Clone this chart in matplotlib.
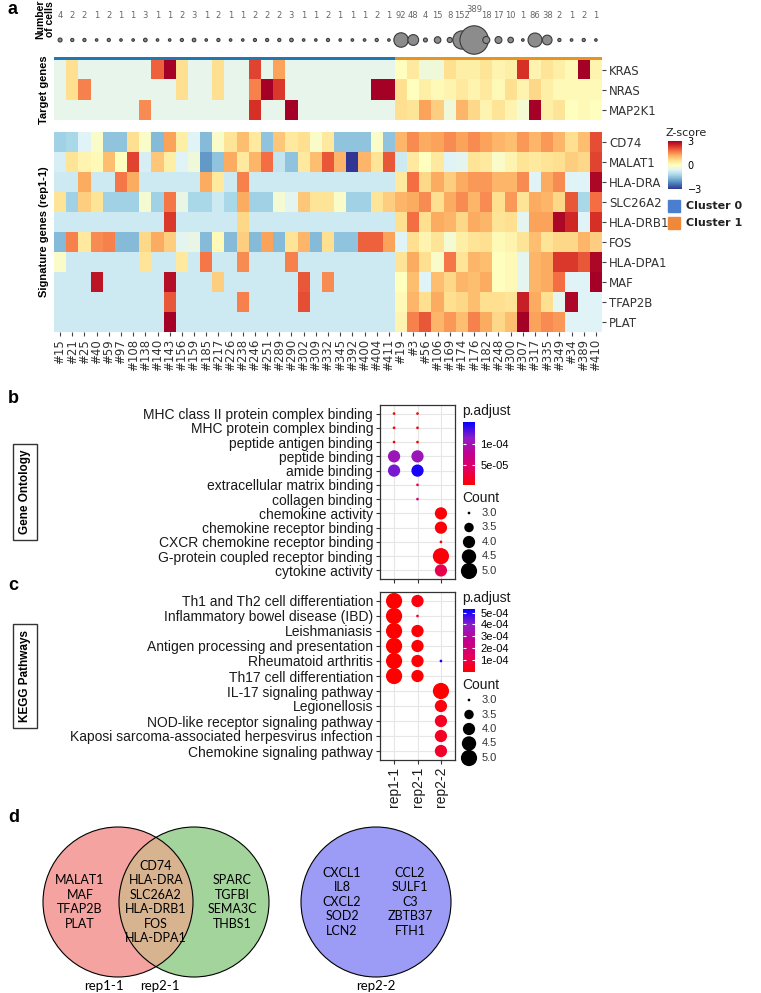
import numpy as np
import matplotlib
matplotlib.use("Agg")
import matplotlib.pyplot as plt
from matplotlib.colors import LinearSegmentedColormap, Normalize
from matplotlib.cm import ScalarMappable
from matplotlib.patches import Circle, Rectangle


# ============================================================
# 1. DATA
# ============================================================

CELL_IDS = ["#15", "#21", "#25", "#40", "#59", "#97", "#108", "#138", "#140", "#143",
            "#156", "#159", "#185", "#217", "#226", "#238", "#246", "#251", "#289", "#290",
            "#302", "#309", "#332", "#345", "#392", "#400", "#404", "#411",
            "#19", "#3", "#56", "#106", "#169", "#174", "#176", "#182", "#248", "#300",
            "#307", "#317", "#335", "#349", "#34", "#389", "#410"]
N_CELLS = [4, 2, 2, 1, 2, 1, 1, 3, 1, 1, 2, 3, 1, 2, 1, 1, 2, 2, 2, 3, 1, 1, 2, 1, 1, 1, 2, 1,
           92, 48, 4, 15, 8, 152, 389, 18, 17, 10, 1, 86, 38, 2, 1, 2, 1]
N_CLUSTER0 = 28

TARGET_GENES = ["KRAS", "NRAS", "MAP2K1"]
KRAS = [-0.45, 0.6, -0.45, -0.45, -0.45, -0.45, -0.45, -0.45, 1.9, 3.0,
        0.6, -0.45, -0.45, 0.6, -0.45, -0.45, 2.2, -0.45, 1.3, -0.45,
        -0.45, -0.45, -0.45, -0.45, -0.45, -0.45, -0.45, -0.45,
        0.0, 0.4, -0.3, -0.3, 0.6, 0.3, 0.3, 0.5, 0.2, 0.3, 2.4, 0.2, 0.5, 0.3, 0.1, 3.0, 0.2]
NRAS = [-0.45, 0.6, 1.6, -0.45, -0.45, -0.45, -0.45, -0.45, -0.45, -0.45,
        0.6, -0.45, -0.45, 0.6, -0.45, -0.45, 1.6, 3.0, 2.3, -0.45,
        -0.45, -0.45, -0.45, -0.45, -0.45, -0.45, 3.0, 3.0,
        0.6, 0.0, 0.3, 0.1, 0.2, 0.4, 0.2, 0.4, 0.1, 0.6, 0.2, 0.7, 0.3, 0.1, 0.1, 0.1, 0.1]
MAP2K1 = [-0.45, -0.45, -0.45, -0.45, -0.45, -0.45, -0.45, 1.5, -0.45, -0.45,
          -0.45, -0.45, -0.45, -0.45, -0.45, -0.45, 2.4, -0.45, -0.45, 3.0,
          -0.45, -0.45, -0.45, -0.45, -0.45, -0.45, -0.45, -0.45,
          0.6, 0.5, 1.3, 0.8, -0.3, 1.1, 0.7, 0.2, 0.5, 0.2, -0.2, 3.0, 0.3, 0.5, 0.0, 0.1, 0.0]

SIGNATURE_GENES = ["CD74", "MALAT1", "HLA-DRA", "SLC26A2", "HLA-DRB1",
                   "FOS", "HLA-DPA1", "MAF", "TFAP2B", "PLAT"]
CD74 = [-1.3, -1.2, -0.6, -0.1, -1.5, -1.5, 0.6, -0.1, -1.6, 1.3,
        0.3, -0.6, -1.6, -0.1, 0.5, 1.0, 0.4, -1.5, 0.9, 0.4,
        0.6, -0.1, 0.4, -1.5, -1.5, -1.5, -0.1, -1.5,
        1.1, 1.5, 1.2, 1.3, 1.5, 1.3, 1.5, 1.3, 1.1, 1.0, 1.4, 1.1, 1.4, 1.1, 0.6, 1.0, 2.1]
MALAT1 = [-0.7, 0.5, 0.2, 0.1, 1.0, 0.0, 2.2, -0.7, 0.9, 0.3,
          -0.6, -0.3, -2.0, -1.5, 1.2, 0.4, 1.1, 1.8, -0.9, -1.5,
          0.4, 1.0, 2.0, 1.1, -3.0, 1.1, 0.5, 2.0,
          -0.8, 0.4, 0.0, 0.4, -0.6, -0.5, 0.5, 0.4, -0.1, 0.2, 0.5, 0.4, 0.5, 0.6, 0.8, 0.7, 2.2]
HLA_DRA = [-0.8, -0.8, 1.2, -0.8, -0.8, 1.7, 1.2, -0.8, -0.8, -0.8,
           -0.8, -0.8, 1.2, 0.4, -0.8, 1.6, -0.8, -0.8, -0.8, -0.8,
           -0.8, -0.8, -0.8, -0.8, -0.8, -0.8, -0.8, -0.8,
           0.4, 1.8, 0.7, 1.2, 0.8, 1.2, 1.4, 1.4, 1.1, 1.1, 1.5, -0.6, 1.2, 1.5, -0.6, -0.6, 2.9]
SLC26A2 = [0.5, -1.3, 0.8, 0.5, -1.3, -1.3, -1.3, -0.2, -1.3, 1.7,
           -0.4, -1.2, -1.2, -0.8, -1.2, 1.2, -1.3, -1.3, -0.2, -0.5,
           0.9, 0.5, 0.5, -0.1, -1.3, -1.3, 0.5, 0.8,
           1.1, 1.2, 1.5, 0.6, 1.2, 1.5, 1.1, 1.5, 0.6, 1.4, 0.5, 1.2, 1.1, 0.7, 2.0, -1.2, 1.8]
HLA_DRB1 = [-0.8, -0.8, -0.8, -0.8, -0.8, -0.8, -0.8, -0.8, -0.8, 2.3,
            -0.8, -0.8, -0.8, -0.8, -0.8, 0.7, -0.8, -0.8, -0.8, -0.8,
            -0.8, -0.8, -0.8, -0.8, -0.8, -0.8, -0.8, -0.8,
            0.6, 1.8, 0.6, 1.2, 1.1, 0.7, 1.2, 1.1, 0.5, 0.6, -0.5, 1.3, 1.3, 2.9, 2.5, -0.6, 2.4]
FOS = [-1.6, 1.6, 0.4, 1.5, 1.6, -1.6, -1.6, 0.7, 1.2, 0.8,
       -0.5, -0.4, -1.6, 0.1, -1.6, 0.8, -1.6, 1.3, -1.6, 0.5,
       1.1, -1.6, 0.6, -1.5, -1.5, 1.9, 1.9, 1.3,
       -0.6, 0.6, 0.2, 0.5, -0.2, 0.3, 0.5, 0.6, 0.1, 0.2, 0.5, 1.0, 0.5, 0.7, 0.7, 1.1, 0.8]
HLA_DPA1 = [-0.1, -0.8, -0.8, -0.8, -0.8, -0.8, -0.8, 0.5, -0.8, -0.8,
            0.4, -0.8, 1.7, -0.8, -0.8, 1.5, -0.8, -0.8, -0.8, 1.6,
            -0.8, -0.8, -0.8, -0.8, -0.8, -0.8, -0.8, -0.8,
            0.5, 1.2, 0.6, -0.1, 1.7, 0.5, 1.1, 1.0, 0.0, 0.1, -0.5, 1.1, 1.2, 2.3, 2.3, 2.0, 2.9]
MAF = [-0.8, -0.8, -0.8, 2.7, -0.8, -0.8, -0.8, -0.8, -0.8, 2.8,
       -0.8, -0.8, -0.8, 0.8, -0.8, -0.8, -0.8, -0.8, -0.8, -0.8,
       2.0, -0.8, 1.5, -0.8, -0.8, -0.8, -0.8, -0.8,
       0.0, 1.0, -0.6, 1.0, 0.7, 1.1, 1.0, 1.2, 0.0, 0.1, -0.5, 1.1, 1.2, 1.8, -0.6, -0.6, 3.0]
TFAP2B = [-0.8, -0.8, -0.8, -0.8, -0.8, -0.8, -0.8, -0.8, -0.8, 2.0,
          -0.8, -0.8, -0.8, -0.8, -0.8, 1.6, -0.8, -0.8, -0.8, -0.8,
          2.1, -0.8, -0.8, -0.8, -0.8, -0.8, -0.8, -0.8,
          0.1, 1.1, 0.6, 1.2, 0.6, 0.7, 1.0, 0.6, 0.6, 0.5, 2.6, 1.2, 0.6, -0.5, 2.9, -0.6, -0.6]
PLAT = [-0.8, -0.8, -0.8, -0.8, -0.8, -0.8, -0.8, -0.8, -0.8, 3.0,
        -0.8, -0.8, -0.8, -0.8, -0.8, -0.8, -0.8, -0.8, -0.8, -0.8,
        -0.8, -0.8, -0.8, -0.8, -0.8, -0.8, -0.8, -0.8,
        0.2, 1.6, 2.0, 1.1, 1.4, 1.0, 1.6, 1.2, 0.7, 1.0, 3.0, 1.3, 1.5, 1.4, -0.6, -0.6, -0.6]

SAMPLES = ["rep1-1", "rep2-1", "rep2-2"]

GO_TERMS = ["MHC class II protein complex binding", "MHC protein complex binding",
            "peptide antigen binding", "peptide binding", "amide binding",
            "extracellular matrix binding", "collagen binding", "chemokine activity",
            "chemokine receptor binding", "CXCR chemokine receptor binding",
            "G-protein coupled receptor binding", "cytokine activity"]
GO_TERM_IDX = [0, 0, 1, 1, 2, 2, 3, 3, 4, 4, 5, 6, 7, 8, 9, 10, 11]
GO_SAMPLE_IDX = [0, 1, 0, 1, 0, 1, 0, 1, 0, 1, 1, 1, 2, 2, 2, 2, 2]
GO_COUNT = [3, 3, 3, 3, 3, 3, 4, 4, 4, 4, 3, 3, 4, 4, 3, 5, 4]
GO_PADJ = [5e-6, 5e-6, 5e-6, 5e-6, 6e-6, 6e-6, 1.05e-4, 1.05e-4, 1.2e-4,
           1.45e-4, 4e-5, 6.5e-5, 5e-6, 5e-6, 9e-6, 6e-6, 3.2e-5]

KEGG_TERMS = ["Th1 and Th2 cell differentiation", "Inflammatory bowel disease (IBD)",
              "Leishmaniasis", "Antigen processing and presentation", "Rheumatoid arthritis",
              "Th17 cell differentiation", "IL-17 signaling pathway", "Legionellosis",
              "NOD-like receptor signaling pathway",
              "Kaposi sarcoma-associated herpesvirus infection", "Chemokine signaling pathway"]
KEGG_TERM_IDX = [0, 0, 1, 1, 2, 2, 3, 3, 4, 4, 4, 5, 5, 6, 7, 8, 9, 10]
KEGG_SAMPLE_IDX = [0, 1, 0, 1, 0, 1, 0, 1, 0, 1, 2, 0, 1, 2, 2, 2, 2, 2]
KEGG_COUNT = [5, 4, 5, 3, 5, 4, 5, 4, 5, 4, 3, 5, 4, 5, 4, 4, 4, 4]
KEGG_PADJ = [1e-6, 2e-5, 1e-6, 3e-5, 1e-6, 1e-5, 1e-6, 1e-5, 1e-6, 1e-5, 5.1e-4,
             1e-6, 1e-5, 1e-6, 2e-5, 5e-5, 5e-5, 6e-5]

COUNT_BREAKS = [3.0, 3.5, 4.0, 4.5, 5.0]

VENN_REP11_ONLY = ["MALAT1", "MAF", "TFAP2B", "PLAT"]
VENN_SHARED = ["CD74", "HLA-DRA", "SLC26A2", "HLA-DRB1", "FOS", "HLA-DPA1"]
VENN_REP21_ONLY = ["SPARC", "TGFBI", "SEMA3C", "THBS1"]
VENN_REP22_COL1 = ["CXCL1", "IL8", "CXCL2", "SOD2", "LCN2"]
VENN_REP22_COL2 = ["CCL2", "SULF1", "C3", "ZBTB37", "FTH1"]


# ============================================================
# 2. Helpers
# ============================================================

W, H = 761, 993
GG_FONT = "Liberation Sans"
CLUSTER_COLORS = ["#1f77b4", "#e8951f"]
TEXT_DARK = "#1a1a1a"

fig = plt.figure(figsize=(W / 100, H / 100), dpi=100)


def add_ax(x0, y0, x1, y1):
    # pixel box (top-left origin) -> figure axes
    return fig.add_axes([x0 / W, 1 - y1 / H, (x1 - x0) / W, (y1 - y0) / H])


def put_text(x, y, s, **kw):
    fig.text(x / W, 1 - y / H, s, **kw)


def dot_area(count):
    # ggplot-like area scale between count 3 and 5
    count = np.asarray(count, dtype=float)
    d_px = 2.7 * (1 + 5 * np.sqrt((count - 3) / 2))
    return (d_px * 0.72) ** 2


padj_cmap = LinearSegmentedColormap.from_list(
    "padj", ["#ff0000", "#e3005f", "#c2008f", "#8e1ec8", "#0000ff"])
z_cmap = plt.get_cmap("RdYlBu_r")


def style_heatmap(ax):
    for sp in ax.spines.values():
        sp.set_visible(False)
    ax.yaxis.tick_right()
    ax.tick_params(axis="y", length=3, color="#444444", labelsize=8.5,
                   labelcolor="#333333", pad=2)


def dot_panel(ax, terms, term_idx, sample_idx, counts, padj, norm, show_x):
    ax.scatter(sample_idx, term_idx, s=dot_area(counts), c=padj, cmap=padj_cmap,
               norm=norm, zorder=3, linewidths=0)
    ax.set_xlim(-0.6, 2.6)
    ax.set_ylim(len(terms) - 0.4, -0.6)
    ax.set_yticks(range(len(terms)))
    ax.set_yticklabels(terms, fontsize=10, family=GG_FONT, color=TEXT_DARK)
    ax.set_xticks(range(3))
    if show_x:
        ax.set_xticklabels(SAMPLES, rotation=90, fontsize=10, family=GG_FONT,
                           color=TEXT_DARK)
    else:
        ax.set_xticklabels([])
    ax.tick_params(length=3, color="#333333", pad=2)
    ax.grid(color="#e6e6e6", linewidth=0.8)
    ax.set_axisbelow(True)
    for sp in ax.spines.values():
        sp.set_color("#333333")
        sp.set_linewidth(0.9)


def dot_legend(x, y_top, norm, ticks, ticklabels):
    put_text(x - 1, y_top + 6, "p.adjust", fontsize=10, family=GG_FONT, va="center",
             color=TEXT_DARK)
    cax = add_ax(x, y_top + 17, x + 12, y_top + 80)
    cb = fig.colorbar(ScalarMappable(norm=norm, cmap=padj_cmap), cax=cax)
    cb.outline.set_visible(False)
    cb.set_ticks(ticks)
    cb.set_ticklabels(ticklabels)
    cax.yaxis.set_ticks_position("both")
    cax.tick_params(length=2.5, width=0.8, direction="in", color="white",
                    labelsize=8, pad=4, labelleft=False, labelright=True)
    for lab in cax.get_yticklabels():
        lab.set_family(GG_FONT)
    put_text(x - 1, y_top + 93, "Count", fontsize=10, family=GG_FONT, va="center",
             color=TEXT_DARK)
    lax = add_ax(x - 10, y_top + 100, x + 50, y_top + 178)
    lax.set_xlim(x - 10, x + 50)
    lax.set_ylim(y_top + 178, y_top + 100)
    lax.axis("off")
    ys = y_top + 108 + np.arange(len(COUNT_BREAKS)) * 14.5
    lax.scatter(np.full(len(ys), x + 6), ys, s=dot_area(COUNT_BREAKS), c="black",
                linewidths=0, clip_on=False)
    for yy, lab in zip(ys, COUNT_BREAKS):
        lax.text(x + 19, yy, f"{lab:.1f}", fontsize=8, family=GG_FONT, va="center",
                 color="#333333")


# ============================================================
# 3. Panel a: heatmaps
# ============================================================

n_cols = len(CELL_IDS)
xs = np.arange(n_cols)

ax_n = add_ax(54, 0, 602, 60)
ax_n.set_xlim(-0.5, n_cols - 0.5)
ax_n.set_ylim(60, 0)
ax_n.axis("off")
bubble_d = 1.2 + 1.38 * np.sqrt(N_CELLS)
ax_n.scatter(xs, np.full(n_cols, 40), s=(bubble_d * 0.72) ** 2, c="#8c8c8c",
             edgecolors="#3a3a3a", linewidths=0.8, zorder=3, clip_on=False)
for i, n in enumerate(N_CELLS):
    ax_n.text(i, 9 if n > 300 else 15, str(n), ha="center", va="center",
              fontsize=6, color="#666666")
ax_n.add_patch(Rectangle((-0.5, 56.5), N_CLUSTER0, 3, color=CLUSTER_COLORS[0],
                         lw=0, clip_on=False))
ax_n.add_patch(Rectangle((N_CLUSTER0 - 0.5, 56.5), n_cols - N_CLUSTER0, 3,
                         color=CLUSTER_COLORS[1], lw=0, clip_on=False))

ax_t = add_ax(54, 60, 602, 120)
ax_t.imshow(np.array([KRAS, NRAS, MAP2K1]), cmap=z_cmap, vmin=-3, vmax=3,
            aspect="auto", interpolation="nearest")
style_heatmap(ax_t)
ax_t.set_xticks([])
ax_t.set_yticks(range(len(TARGET_GENES)))
ax_t.set_yticklabels(TARGET_GENES)

sig = np.array([CD74, MALAT1, HLA_DRA, SLC26A2, HLA_DRB1, FOS, HLA_DPA1, MAF, TFAP2B, PLAT])
ax_s = add_ax(54, 132, 602, 332)
ax_s.imshow(sig, cmap=z_cmap, vmin=-3, vmax=3, aspect="auto", interpolation="nearest")
style_heatmap(ax_s)
ax_s.set_yticks(range(len(SIGNATURE_GENES)))
ax_s.set_yticklabels(SIGNATURE_GENES)
ax_s.set_xticks(xs)
ax_s.set_xticklabels(CELL_IDS, rotation=90, fontsize=8.5, color="#333333")
ax_s.tick_params(axis="x", length=3, color="#444444", pad=2)

put_text(45, 19, "Number\nof cells", rotation=90, ha="center", va="center",
         fontsize=7.5, fontweight="bold", family=GG_FONT, linespacing=1.0)
put_text(44, 90, "Target genes", rotation=90, ha="center", va="center",
         fontsize=8, fontweight="bold", family=GG_FONT)
put_text(44, 232, "Signature genes (rep1-1)", rotation=90, ha="center", va="center",
         fontsize=8, fontweight="bold", family=GG_FONT)

# Z-score legend (kept clear of the gene labels)
put_text(666, 133, "Z-score", fontsize=8, va="center", color="#222222")
zax = add_ax(668, 141, 682, 189)
zcb = fig.colorbar(ScalarMappable(norm=Normalize(-3, 3), cmap=z_cmap), cax=zax)
zcb.outline.set_visible(False)
zcb.set_ticks([-3, 0, 3])
zax.tick_params(length=0, labelsize=7, pad=4)

for k, (label, color) in enumerate([("Cluster 0", "#4a7fd0"), ("Cluster 1", "#f0883a")]):
    y = 206 + 17 * k
    fig.patches.append(Rectangle((668 / W, 1 - (y + 6) / H), 12 / W, 12 / H,
                                 transform=fig.transFigure, color=color))
    put_text(686, y, label, fontsize=8, fontweight="bold", va="center", color="#222222")


# ============================================================
# 4. Panels b and c: enrichment dot plots
# ============================================================

go_norm = Normalize(2e-6, 1.52e-4)
ax_go = add_ax(380, 405, 455, 579)
dot_panel(ax_go, GO_TERMS, GO_TERM_IDX, GO_SAMPLE_IDX, GO_COUNT, GO_PADJ, go_norm, False)
dot_legend(463, 405, go_norm, [5e-5, 1e-4], ["5e-05", "1e-04"])

kegg_norm = Normalize(1e-6, 5.3e-4)
ax_kg = add_ax(380, 592, 455, 760)
dot_panel(ax_kg, KEGG_TERMS, KEGG_TERM_IDX, KEGG_SAMPLE_IDX, KEGG_COUNT, KEGG_PADJ,
          kegg_norm, True)
dot_legend(463, 592, kegg_norm, [1e-4, 2e-4, 3e-4, 4e-4, 5e-4],
           ["1e-04", "2e-04", "3e-04", "4e-04", "5e-04"])

box_style = dict(boxstyle="square,pad=0.5", fc="white", ec="#333333", lw=1)
put_text(25, 492, "Gene Ontology", rotation=90, ha="center", va="center", fontsize=8.5,
         fontweight="bold", family=GG_FONT, bbox=box_style)
put_text(25, 676, "KEGG Pathways", rotation=90, ha="center", va="center", fontsize=8.5,
         fontweight="bold", family=GG_FONT, bbox=box_style)


# ============================================================
# 5. Panel d: Venn diagrams
# ============================================================

ax_v = add_ax(0, 800, W, H)
ax_v.set_xlim(0, W)
ax_v.set_ylim(H, 800)
ax_v.axis("off")

cy, r = 902, 75
c1 = Circle((118, cy), r, fc="#f4a3a0", ec="none")
c2 = Circle((194, cy), r, fc="#a3d49b", ec="none")
ax_v.add_patch(c1)
ax_v.add_patch(c2)
lens = Circle((194, cy), r, fc="#d8b38f", ec="none")
ax_v.add_patch(lens)
lens.set_clip_path(c1)
for cx in (118, 194):
    ax_v.add_patch(Circle((cx, cy), r, fill=False, ec="black", lw=0.8))
ax_v.add_patch(Circle((376, cy), r, fc="#9c9cf6", ec="black", lw=0.8))

venn_kw = dict(ha="center", va="center", fontsize=9, family="Lato", linespacing=1.25)
ax_v.text(80, cy, "\n".join(VENN_REP11_ONLY), **venn_kw)
ax_v.text(156, cy, "\n".join(VENN_SHARED), **venn_kw)
ax_v.text(232, cy, "\n".join(VENN_REP21_ONLY), **venn_kw)
ax_v.text(342, cy, "\n".join(VENN_REP22_COL1), **venn_kw)
ax_v.text(410, cy, "\n".join(VENN_REP22_COL2), **venn_kw)

ax_v.text(104, 986, SAMPLES[0], ha="center", va="center", fontsize=9.5, family="Lato")
ax_v.text(160, 986, SAMPLES[1], ha="center", va="center", fontsize=9.5, family="Lato")
ax_v.text(376, 986, SAMPLES[2], ha="center", va="center", fontsize=9.5, family="Lato")

# panel letters
for letter, y in [("a", 10), ("b", 398), ("c", 585), ("d", 818)]:
    put_text(8, y, letter, fontsize=13, fontweight="bold", family=GG_FONT, va="center")

fig.savefig("out.png", dpi=100)
